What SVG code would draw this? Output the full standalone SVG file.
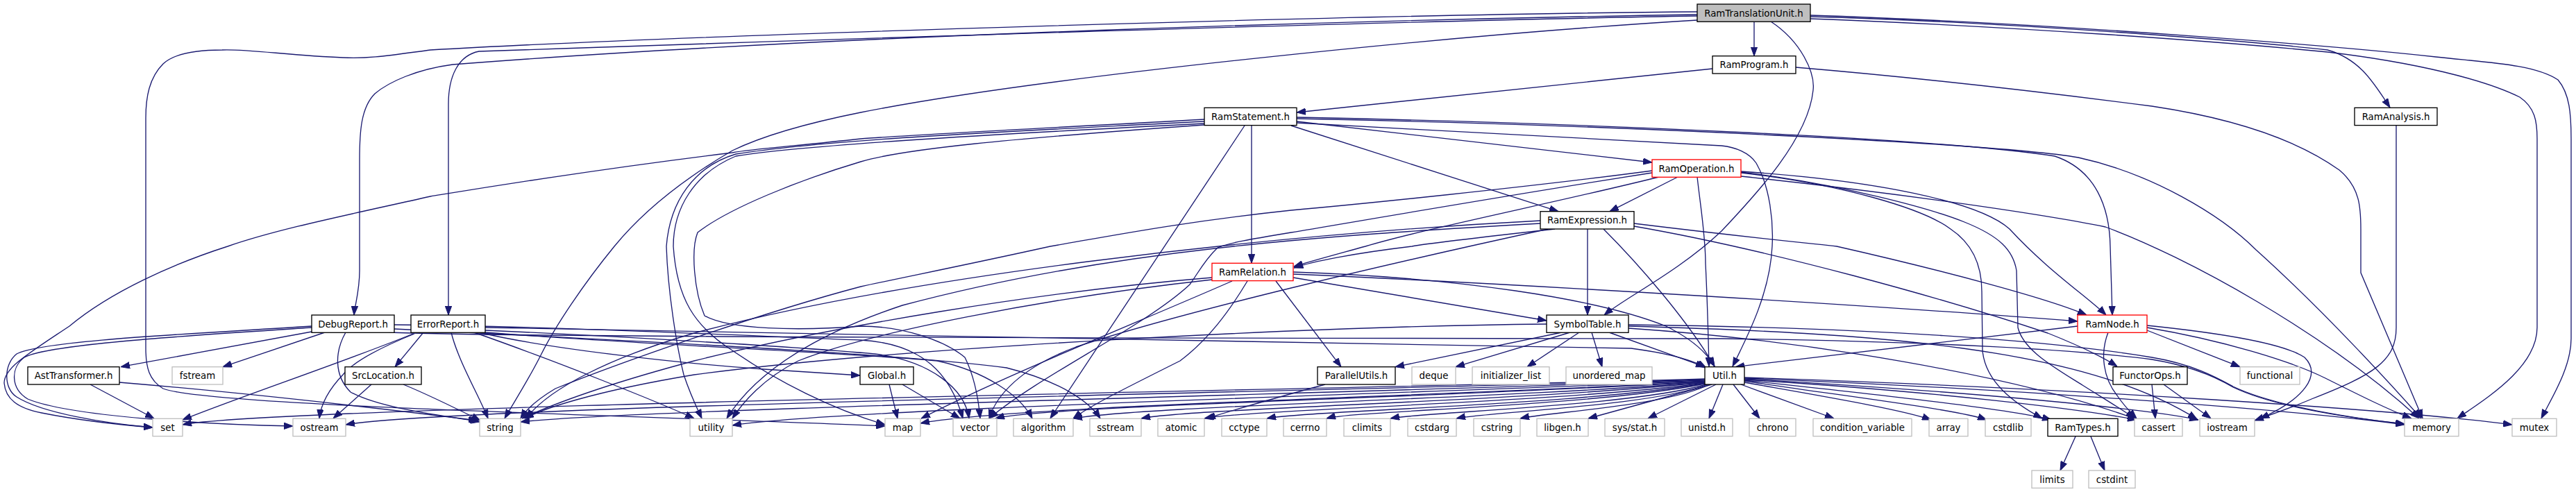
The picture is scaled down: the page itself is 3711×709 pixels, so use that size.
<svg xmlns="http://www.w3.org/2000/svg" width="3711" height="709" viewBox="0 0 3711 709">
<style>
.n rect{fill:#fff;stroke:#000;stroke-width:1.33}
.r rect{fill:#fff;stroke:#ff0000;stroke-width:1.33}
.g rect{fill:#fff;stroke:#bfbfbf;stroke-width:1.33}
.root rect{fill:#bfbfbf;stroke:#000;stroke-width:1.33}
text{font-family:"DejaVu Sans","Liberation Sans",sans-serif;font-size:13.33px;text-anchor:middle;fill:#000}
#edges path{fill:none;stroke:#191970;stroke-width:1.33;marker-end:url(#a)}
</style>
<defs>
<marker id="a" markerUnits="userSpaceOnUse" markerWidth="13" markerHeight="10" viewBox="0 -5 13 10" refX="13" refY="0" orient="auto">
<path d="M0,-4.7L13,0L0,4.7z" fill="#191970" stroke="#191970" stroke-width="1"/>
</marker>
</defs>
<rect width="3711" height="709" fill="#fff"/>
<g id="edges">
<path d="M2527,31 L2527,80.7"/>
<path d="M2608,24 C2900,32 3250,60 3353,72 C3400,85 3420,120 3443,155"/>
<path d="M2608,22 C3000,35 3400,70 3509,82 C3580,90 3650,92 3685,115 C3702,135 3704,165 3704,200 L3704,488 C3704,530 3675,575 3661,603"/>
<path d="M2608,27 C2900,38 3200,60 3353,75 C3480,90 3580,115 3630,140 C3652,155 3655,175 3655,200 L3655,472 C3655,530 3580,575 3540,603"/>
<path d="M2551,31 C2595,60 2615,105 2612,130 C2605,200 2530,280 2480,333 C2420,390 2340,430 2311,454"/>
<path d="M2445,21 C2000,28 1200,50 652,93 C600,100 560,118 540,135 C520,155 518,190 518,230 L518,390 C518,420 511,440 510,454"/>
<path d="M2445,23 C2000,30 1100,60 690,74 C660,80 646,110 646,150 L646,454"/>
<path d="M2445,17 C2000,20 1000,50 620,72 C560,80 530,85 494,83 C420,80 350,70 320,72 C280,72 250,78 235,92 C215,112 210,140 210,170 L210,502 C210,530 215,548 235,560 C300,585 900,598 1275,614"/>
<path d="M2445,29 C2100,50 1500,110 1240,162 C1150,180 1090,200 1055,217 C990,255 930,300 885,355 C840,410 800,470 780,510 C760,550 740,580 727,603"/>
<path d="M2467,99 L1868,162"/>
<path d="M2587,97 C2800,115 3000,140 3100,153 C3200,168 3300,195 3370,245 C3400,270 3401,300 3401,330 L3401,393 L3490,603"/>
<path d="M3452,181 L3452,472 C3452,520 3420,540 3330,575 C3300,588 3270,598 3248,606"/>
<path d="M1803,181 L1803,379.3"/>
<path d="M1793,181 L1513,603"/>
<path d="M1868,175 L2380,234"/>
<path d="M1860,181 L2245,304.7"/>
<path d="M1868,169 C2300,178 2800,200 2960,225 C3020,245 3039,300 3040,355 L3043,454"/>
<path d="M1868,171 C2400,182 2900,210 2994,227 C3100,250 3200,310 3250,360 C3350,450 3450,560 3488,603"/>
<path d="M1868,177 C2100,190 2400,205 2480,210 C2500,212 2520,220 2530,235 C2550,270 2555,320 2553,355 C2550,420 2520,480 2496,528"/>
<path d="M1735,172 C1500,185 1300,195 1240,200 C1150,210 1080,215 1055,220 C850,245 700,270 620,283 C500,310 400,330 328,355 C250,380 160,420 100,470 C40,510 6,530 6,552 C8,575 25,588 60,595 C110,605 170,612 220,616"/>
<path d="M1735,175 C1450,190 1200,200 1060,222 C1000,240 965,290 960,355 C962,420 975,500 985,540 C995,570 1005,590 1011,603"/>
<path d="M1735,178 C1400,195 1150,210 1060,225 C1000,250 970,300 970,355 C975,430 1000,470 1055,505 C1120,550 1200,590 1275,612"/>
<path d="M1735,180 C1450,200 1300,215 1240,233 C1150,260 1050,300 1005,335 C995,360 1000,420 1015,455 C1050,475 1150,477 1240,470 C1300,470 1360,490 1390,515 C1405,545 1410,580 1412,603"/>
<path d="M2417,255 L2319,304.7"/>
<path d="M2390,255 C2250,290 2050,330 1967,355 C1920,368 1890,376 1864,384"/>
<path d="M2380,246 C2200,270 1950,295 1860,303 C1700,320 1600,340 1513,355 C1400,380 1300,400 1240,413 C1100,450 900,520 800,560 C775,575 758,590 750,603"/>
<path d="M2380,249 C2150,285 1950,320 1860,335 C1800,345 1770,350 1754,357 C1735,375 1725,395 1714,410 C1650,470 1500,540 1425,603"/>
<path d="M2445,255 C2450,300 2457,340 2457,380 C2460,440 2461,490 2462,528"/>
<path d="M2508,247 C2700,260 2850,290 2895,330 C2950,390 3010,430 3034,454"/>
<path d="M2508,249 C2650,265 2770,300 2810,330 C2840,350 2855,380 2855,420 L2856,505 C2860,550 2900,580 2942,603"/>
<path d="M2508,248 C2650,265 2780,300 2830,320 C2880,340 2900,360 2905,390 L2907,472 C2915,505 2960,530 3000,555 C3040,580 3065,595 3075,603"/>
<path d="M2508,254 C2750,280 2950,310 3033,327 C3150,370 3350,480 3485,603"/>
<path d="M2287,330 L2287,454"/>
<path d="M2240,330 C2150,340 2060,350 2034,355 C1950,365 1890,377 1864,386"/>
<path d="M2310,330 C2360,380 2430,460 2470,528"/>
<path d="M2354,322 C2500,340 2600,350 2646,355 C2800,390 2950,430 3006,454"/>
<path d="M2354,326 C2550,360 2800,430 2950,480 C3000,500 3030,515 3050,528"/>
<path d="M2219,318 C1800,340 1300,400 1000,480 C880,515 790,560 758,603"/>
<path d="M2219,322 C1900,340 1600,360 1300,440 C1150,490 1080,550 1047,603"/>
<path d="M2230,330 C2000,380 1700,450 1550,500 C1470,530 1435,570 1425,603"/>
<path d="M1838,405 L1932,528.7"/>
<path d="M1863,400 L2228,462"/>
<path d="M1863,395 C2200,410 2700,440 2993,463"/>
<path d="M1863,392 C2100,400 2300,430 2400,470 C2440,490 2460,510 2470,528"/>
<path d="M1746,400 C1500,420 1200,470 1000,520 C850,560 780,590 752,603"/>
<path d="M1746,403 C1500,430 1250,480 1150,520 C1100,545 1070,580 1055,603"/>
<path d="M1775,405 C1650,460 1450,540 1327,603"/>
<path d="M1797,405 C1770,450 1740,490 1700,520 C1620,560 1570,585 1546,603"/>
<path d="M2250,479 L2010,528.7"/>
<path d="M2262,479 L2097,528.7"/>
<path d="M2275,479 L2200,528.7"/>
<path d="M2293,479 L2308,528.7"/>
<path d="M2318,479 L2456,528.7"/>
<path d="M2228,467 C1900,470 1300,500 1000,540 C850,565 780,590 756,603"/>
<path d="M2346,473 C2600,490 2900,540 3078,604"/>
<path d="M2346,470 C2700,480 3000,500 3165,604"/>
<path d="M2346,468 C2700,472 2950,490 3100,515 C3160,525 3195,545 3217,557 C3280,587 3400,604 3464,611"/>
<path d="M2993,470 L2500,528.7"/>
<path d="M3037,479 C3025,510 3030,545 3050,570 C3060,585 3070,595 3078,603"/>
<path d="M3093,476 L3227,528.7"/>
<path d="M3093,469 C3200,480 3290,495 3320,515 C3345,540 3320,575 3256,603"/>
<path d="M3093,472 C3200,490 3300,520 3350,545 C3400,570 3440,590 3474,603"/>
<path d="M3100,554 L3105,603"/>
<path d="M3117,554 L3185,603"/>
<path d="M2990,629 L2968,678"/>
<path d="M3012,629 L3032,678"/>
<path d="M1281,554 L1293,603"/>
<path d="M1300,554 L1383,603"/>
<path d="M1909,554 C1850,570 1780,590 1738,603"/>
<path d="M130,554 L222,603"/>
<path d="M172,551 C400,570 600,595 688,606"/>
<path d="M535,554 L480,603"/>
<path d="M581,554 C620,570 660,590 692,606"/>
<path d="M449,478 L174,528.7"/>
<path d="M468,479 L321,528.7"/>
<path d="M449,470 C300,480 60,490 24,510 C5,525 5,560 24,572 C60,595 150,610 220,616"/>
<path d="M449,472 C300,482 70,495 35,515 C15,530 15,560 40,575 C100,600 300,612 422,614"/>
<path d="M690,479 C800,505 1000,525 1100,532 C1180,537 1220,540 1239,541"/>
<path d="M498,479 C483,505 480,540 505,565 C550,590 650,600 691,608"/>
<path d="M568,468 C800,470 1100,485 1240,490 C1330,495 1370,540 1387,603"/>
<path d="M568,474 C900,490 1300,510 1450,530 C1530,550 1570,580 1585,603"/>
<path d="M560,479 C750,486 1500,487 2480,488 C2800,492 3000,505 3100,518 C3155,527 3192,543 3217,558 C3280,588 3400,604 3464,611"/>
<path d="M699,472 C1200,484 2000,492 2350,502 C2410,510 2440,520 2458,530"/>
<path d="M610,479 L569,528.7"/>
<path d="M595,481 C500,520 350,570 263,605"/>
<path d="M597,481 C550,500 510,520 494,540 C470,565 462,585 460,603"/>
<path d="M650,479 C660,520 690,570 703,603"/>
<path d="M683,479 C800,520 950,580 1000,603"/>
<path d="M699,476 C900,485 1150,500 1260,510 C1340,520 1390,560 1396,603"/>
<path d="M699,479 C900,495 1250,510 1350,520 C1420,535 1470,570 1487,603"/>
<path d="M2456,546 C2000,560 400,585 263,612"/>
<path d="M2456,547 C2000,562 650,585 498,612"/>
<path d="M2456,548 C2000,565 900,590 750,608"/>
<path d="M2456,549 C2000,568 1200,590 1055,613"/>
<path d="M2456,550 C2100,570 1450,585 1326,610"/>
<path d="M2456,550 C2100,572 1500,585 1434,603"/>
<path d="M2456,551 C2150,575 1650,585 1546,603"/>
<path d="M2456,551 C2200,578 1720,588 1644,603"/>
<path d="M2456,552 C2250,580 1800,590 1735,603"/>
<path d="M2456,552 C2300,582 1880,592 1825,603"/>
<path d="M2456,553 C2300,585 1950,592 1911,603"/>
<path d="M2458,554 C2350,585 2050,594 2003,603"/>
<path d="M2460,554 C2380,585 2140,594 2098,603"/>
<path d="M2463,554 C2400,585 2230,594 2190,603"/>
<path d="M2466,554 L2288,603"/>
<path d="M2472,554 L2374,603"/>
<path d="M2482,554 L2462,603"/>
<path d="M2497,554 L2535,603"/>
<path d="M2508,554 L2642,603"/>
<path d="M2513,551 C2620,570 2740,590 2782,605"/>
<path d="M2513,549 C2650,570 2820,590 2862,605"/>
<path d="M2513,548 C2700,568 2900,590 2955,605"/>
<path d="M2513,547 C2800,565 3000,590 3078,605"/>
<path d="M2513,546 C2850,565 3100,590 3167,605"/>
<path d="M2513,545 C2900,560 3300,590 3464,612"/>
<path d="M2513,544 C3000,560 3450,590 3619,612"/>
</g>
<g id="n_tu" class="root"><rect x="2445" y="6" width="163" height="25.3"/><text x="2526.5" y="23.5">RamTranslationUnit.h</text></g>
<g id="n_ramprogram" class="n"><rect x="2467" y="80.7" width="120" height="25.3"/><text x="2527" y="98.2">RamProgram.h</text></g>
<g id="n_ramstatement" class="n"><rect x="1735" y="155.3" width="133" height="25.3"/><text x="1801.5" y="172.8">RamStatement.h</text></g>
<g id="n_ramanalysis" class="n"><rect x="3392" y="155.3" width="119" height="25.3"/><text x="3451.5" y="172.8">RamAnalysis.h</text></g>
<g id="n_ramoperation" class="r"><rect x="2380" y="230" width="128" height="25.3"/><text x="2444" y="247.5">RamOperation.h</text></g>
<g id="n_ramexpression" class="n"><rect x="2219" y="304.7" width="135" height="25.3"/><text x="2286.5" y="322.2">RamExpression.h</text></g>
<g id="n_ramrelation" class="r"><rect x="1746" y="379.3" width="117" height="25.3"/><text x="1804.5" y="396.8">RamRelation.h</text></g>
<g id="n_debugreport" class="n"><rect x="449" y="454" width="119" height="25.3"/><text x="508.5" y="471.5">DebugReport.h</text></g>
<g id="n_errorreport" class="n"><rect x="592" y="454" width="107" height="25.3"/><text x="645.5" y="471.5">ErrorReport.h</text></g>
<g id="n_symboltable" class="n"><rect x="2228" y="454" width="118" height="25.3"/><text x="2287" y="471.5">SymbolTable.h</text></g>
<g id="n_ramnode" class="r"><rect x="2993" y="454" width="100" height="25.3"/><text x="3043" y="471.5">RamNode.h</text></g>
<g id="n_asttransformer" class="n"><rect x="40" y="528.7" width="132" height="25.3"/><text x="106" y="546.2">AstTransformer.h</text></g>
<g id="n_fstream" class="g"><rect x="248" y="528.7" width="73" height="25.3"/><text x="284.5" y="546.2">fstream</text></g>
<g id="n_srclocation" class="n"><rect x="497" y="528.7" width="110" height="25.3"/><text x="552" y="546.2">SrcLocation.h</text></g>
<g id="n_global" class="n"><rect x="1239" y="528.7" width="77" height="25.3"/><text x="1277.5" y="546.2">Global.h</text></g>
<g id="n_parallelutils" class="n"><rect x="1898" y="528.7" width="112" height="25.3"/><text x="1954" y="546.2">ParallelUtils.h</text></g>
<g id="n_deque" class="g"><rect x="2034" y="528.7" width="63" height="25.3"/><text x="2065.5" y="546.2">deque</text></g>
<g id="n_initializer_list" class="g"><rect x="2121" y="528.7" width="111" height="25.3"/><text x="2176.5" y="546.2">initializer_list</text></g>
<g id="n_unordered_map" class="g"><rect x="2256" y="528.7" width="124" height="25.3"/><text x="2318" y="546.2">unordered_map</text></g>
<g id="n_util" class="n"><rect x="2456" y="528.7" width="57" height="25.3"/><text x="2484.5" y="546.2">Util.h</text></g>
<g id="n_functorops" class="n"><rect x="3044" y="528.7" width="107" height="25.3"/><text x="3097.5" y="546.2">FunctorOps.h</text></g>
<g id="n_functional" class="g"><rect x="3227" y="528.7" width="86" height="25.3"/><text x="3270" y="546.2">functional</text></g>
<g id="n_set" class="g"><rect x="220" y="603.3" width="43" height="25.3"/><text x="241.5" y="620.8">set</text></g>
<g id="n_ostream" class="g"><rect x="422" y="603.3" width="76" height="25.3"/><text x="460" y="620.8">ostream</text></g>
<g id="n_string" class="g"><rect x="691" y="603.3" width="59" height="25.3"/><text x="720.5" y="620.8">string</text></g>
<g id="n_utility" class="g"><rect x="994" y="603.3" width="61" height="25.3"/><text x="1024.5" y="620.8">utility</text></g>
<g id="n_map" class="g"><rect x="1275" y="603.3" width="51" height="25.3"/><text x="1300.5" y="620.8">map</text></g>
<g id="n_vector" class="g"><rect x="1373" y="603.3" width="63" height="25.3"/><text x="1404.5" y="620.8">vector</text></g>
<g id="n_algorithm" class="g"><rect x="1460" y="603.3" width="86" height="25.3"/><text x="1503" y="620.8">algorithm</text></g>
<g id="n_sstream" class="g"><rect x="1570" y="603.3" width="74" height="25.3"/><text x="1607" y="620.8">sstream</text></g>
<g id="n_atomic" class="g"><rect x="1668" y="603.3" width="67" height="25.3"/><text x="1701.5" y="620.8">atomic</text></g>
<g id="n_cctype" class="g"><rect x="1760" y="603.3" width="65" height="25.3"/><text x="1792.5" y="620.8">cctype</text></g>
<g id="n_cerrno" class="g"><rect x="1849" y="603.3" width="62" height="25.3"/><text x="1880" y="620.8">cerrno</text></g>
<g id="n_climits" class="g"><rect x="1936" y="603.3" width="67" height="25.3"/><text x="1969.5" y="620.8">climits</text></g>
<g id="n_cstdarg" class="g"><rect x="2028" y="603.3" width="70" height="25.3"/><text x="2063" y="620.8">cstdarg</text></g>
<g id="n_cstring" class="g"><rect x="2123" y="603.3" width="67" height="25.3"/><text x="2156.5" y="620.8">cstring</text></g>
<g id="n_libgen" class="g"><rect x="2214" y="603.3" width="74" height="25.3"/><text x="2251" y="620.8">libgen.h</text></g>
<g id="n_sysstat" class="g"><rect x="2312" y="603.3" width="86" height="25.3"/><text x="2355" y="620.8">sys/stat.h</text></g>
<g id="n_unistd" class="g"><rect x="2422" y="603.3" width="74" height="25.3"/><text x="2459" y="620.8">unistd.h</text></g>
<g id="n_chrono" class="g"><rect x="2520" y="603.3" width="67" height="25.3"/><text x="2553.5" y="620.8">chrono</text></g>
<g id="n_condition_variable" class="g"><rect x="2612" y="603.3" width="142" height="25.3"/><text x="2683" y="620.8">condition_variable</text></g>
<g id="n_array" class="g"><rect x="2779" y="603.3" width="56" height="25.3"/><text x="2807" y="620.8">array</text></g>
<g id="n_cstdlib" class="g"><rect x="2860" y="603.3" width="66" height="25.3"/><text x="2893" y="620.8">cstdlib</text></g>
<g id="n_ramtypes" class="n"><rect x="2950" y="603.3" width="101" height="25.3"/><text x="3000.5" y="620.8">RamTypes.h</text></g>
<g id="n_cassert" class="g"><rect x="3075" y="603.3" width="69" height="25.3"/><text x="3109.5" y="620.8">cassert</text></g>
<g id="n_iostream" class="g"><rect x="3169" y="603.3" width="79" height="25.3"/><text x="3208.5" y="620.8">iostream</text></g>
<g id="n_memory" class="g"><rect x="3464" y="603.3" width="78" height="25.3"/><text x="3503" y="620.8">memory</text></g>
<g id="n_mutex" class="g"><rect x="3619" y="603.3" width="64" height="25.3"/><text x="3651" y="620.8">mutex</text></g>
<g id="n_limits" class="g"><rect x="2927" y="678" width="59" height="25.3"/><text x="2956.5" y="695.5">limits</text></g>
<g id="n_cstdint" class="g"><rect x="3009" y="678" width="67" height="25.3"/><text x="3042.5" y="695.5">cstdint</text></g>
</svg>
